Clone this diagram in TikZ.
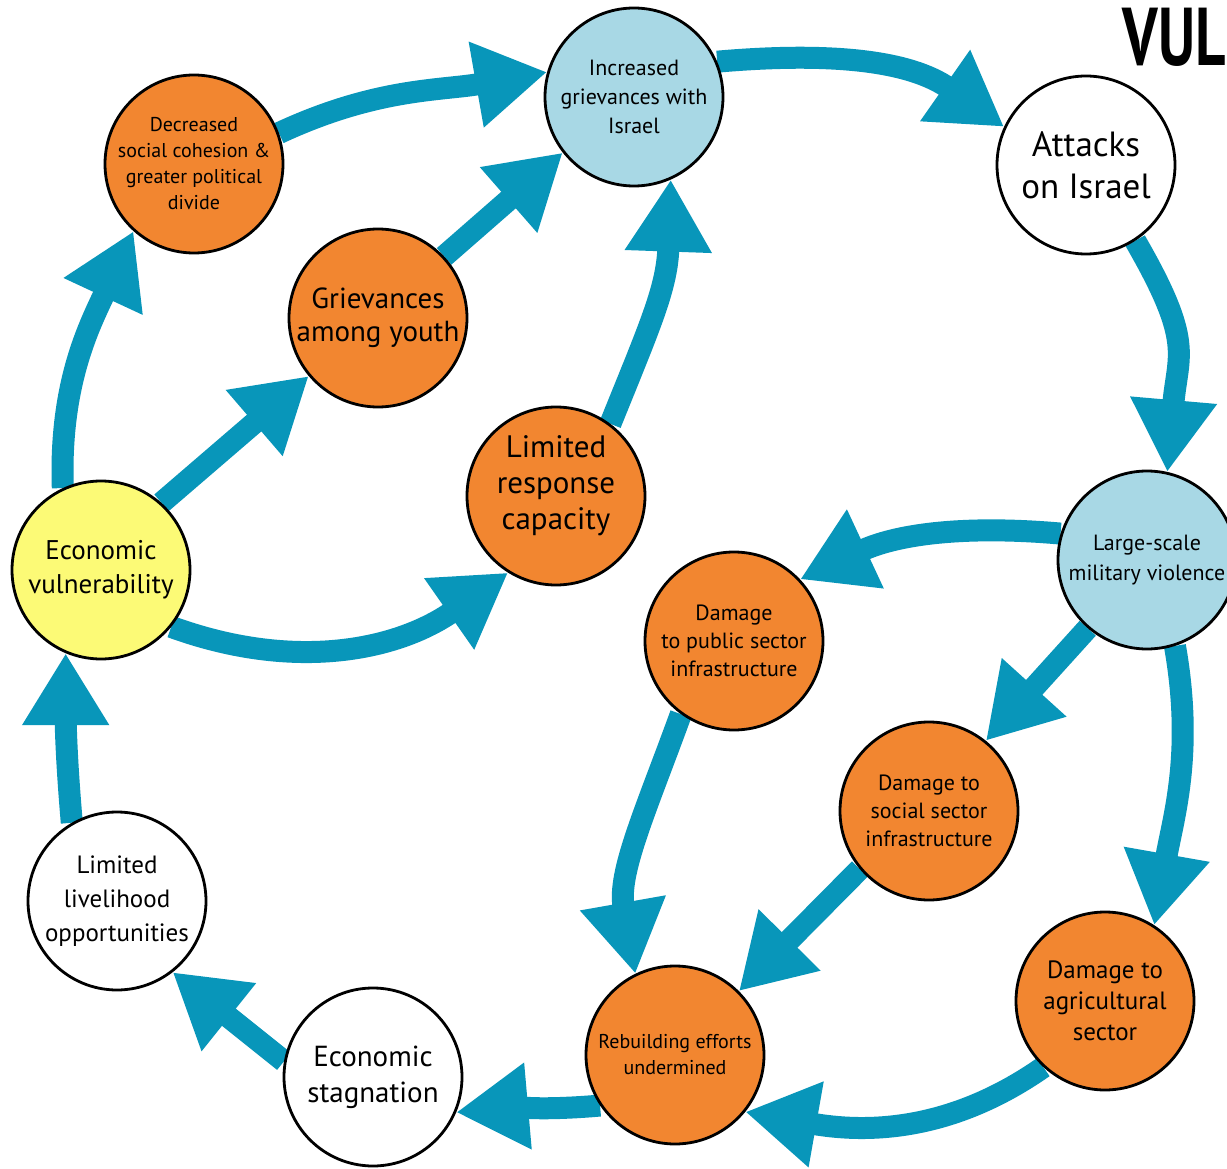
\documentclass[tikz,border=0pt]{standalone}
\usepackage{fontspec}
\setmainfont{PT Sans}
\usetikzlibrary{arrows.meta}
\definecolor{flow}{RGB}{8,150,186}
\definecolor{ora}{RGB}{242,134,48}
\definecolor{sky}{RGB}{168,216,229}
\definecolor{lemon}{RGB}{252,250,118}
\pgfdeclarelayer{bg}
\pgfsetlayers{bg,main}
\newcommand\fsz[2]{\fontsize{#1}{#2}\selectfont}

\begin{document}
\begin{tikzpicture}[x=1pt,y=1pt,
  issue/.style={circle, draw=black, line width=2.8pt, minimum size=178pt,
    inner sep=0pt, align=center, text=black},
  flowarrow/.style={draw=flow, line width=22pt,
    -{Triangle[length=72pt,width=82pt]}}]

\useasboundingbox (0,0) rectangle (1227,-1169);

% causes and consequences
\node[issue, fill=ora, font=\fsz{20}{26}] (dec) at (194,-164)
  {Decreased\\social cohesion \&\\greater political\\divide};
\node[issue, fill=sky, font=\fsz{22}{29}] (inc) at (634,-97)
  {Increased\\grievances with\\Israel};
\node[issue, fill=white, font=\fsz{35}{42}] (att) at (1086,-165)
  {Attacks\\on Israel};
\node[issue, fill=ora, font=\fsz{29}{33}] (you) at (378,-318)
  {Grievances\\among youth};
\node[issue, fill=ora, font=\fsz{31}{36}] (lim) at (556,-496)
  {Limited\\response\\capacity\\[-10pt]};
\node[issue, fill=lemon, font=\fsz{27}{34}] (eco) at (101,-570)
  {Economic\\vulnerability};
\node[issue, fill=sky, font=\fsz{22}{30}] (lsv) at (1147,-560)
  {Large-scale\\military violence};
\node[issue, fill=ora, font=\fsz{22}{28}] (dpub) at (734,-641)
  {Damage\\to public sector\\infrastructure};
\node[issue, fill=ora, font=\fsz{22}{28}] (dsoc) at (929,-811)
  {Damage to\\social sector\\infrastructure};
\node[issue, fill=white, font=\fsz{25}{34}] (liv) at (117,-901)
  {Limited\\livelihood\\opportunities};
\node[issue, fill=ora, font=\fsz{25}{31}] (dagr) at (1105,-1001)
  {Damage to\\agricultural\\sector};
\node[issue, fill=ora, font=\fsz{20}{26}] (reb) at (675,-1055)
  {Rebuilding efforts\\undermined};
\node[issue, fill=white, font=\fsz{29}{36}] (stag) at (373,-1077)
  {Economic\\stagnation};

% title
\node[anchor=north east, inner sep=0pt, font=\fsz{82}{82}\bfseries] (ttl) at (1226,-8)
  {\scalebox{0.72}[1]{VUL}};

% links, beneath the circles
\begin{pgfonlayer}{bg}
\fill[white] (0,0) rectangle (1227,-1169);
\clip (0,0) rectangle (1227,-1169);
\draw[flowarrow] (dec.20) to[out=25,in=190] (inc.164);
\draw[flowarrow] (inc.23) to[out=5,in=145] (att.155);
\draw[flowarrow] (att.-57) to[out=-60,in=85,looseness=1.3] (lsv.77);
\draw[flowarrow] (lsv.163) to[out=175,in=25] (dpub.43);
\draw[flowarrow] (lsv.229) -- (dsoc.51);
\draw[flowarrow] (lsv.-72) to[out=-80,in=80] (dagr.57);
\draw[flowarrow] (dpub.234) to[out=250,in=100] (reb.116);
\draw[flowarrow] (dsoc.220) -- (reb.45);
\draw[flowarrow] (dagr.227) to[out=215,in=-10] (reb.-39);
\draw[flowarrow] (reb.214) to[out=185,in=5] (stag.-23);
\draw[flowarrow] (stag.170) -- (liv.-52);
\draw[flowarrow] (liv.120) to[out=95,in=270] (eco.247);
\draw[flowarrow] (eco.115) to[out=92,in=245] (dec.228);
\draw[flowarrow] (eco.48) -- (you.220);
\draw[flowarrow] (eco.-39) to[out=-20,in=215] (lim.238);
\draw[flowarrow] (you.43) -- (inc.218);
\draw[flowarrow] (lim.53) to[out=68,in=-92,looseness=1.1] (inc.-66);
\end{pgfonlayer}
\end{tikzpicture}
\end{document}
